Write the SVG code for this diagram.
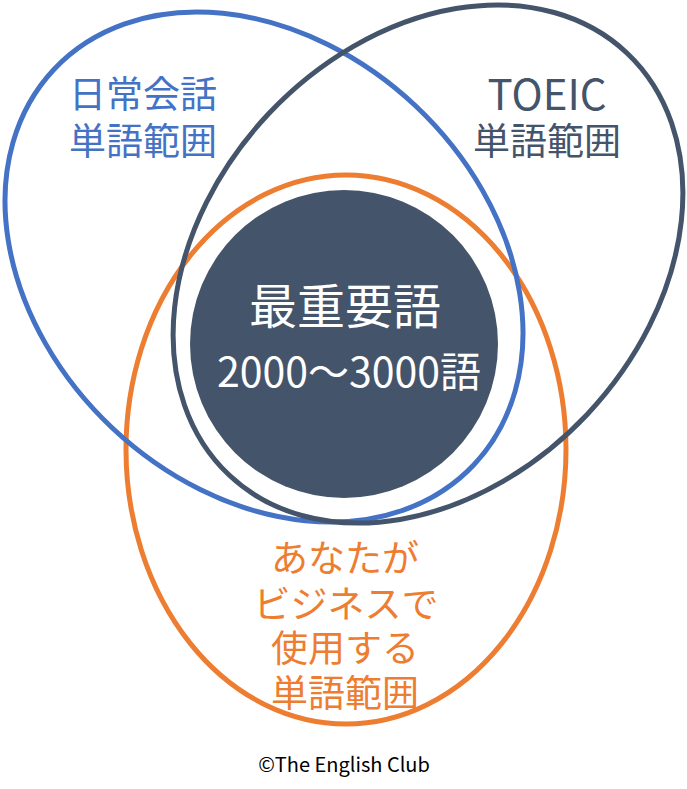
<svg xmlns="http://www.w3.org/2000/svg" width="687" height="789" viewBox="0 0 687 789">
<style>
.ring{fill:none;stroke-width:5}
.jp{font-family:"Noto Sans CJK JP","Noto Sans",sans-serif;text-anchor:middle}
</style>
<rect width="687" height="789" fill="#ffffff"/>
<g id="business">
<ellipse class="ring" cx="346" cy="449.5" rx="220" ry="274.5" stroke="#ED7D31"/>
</g>
<g id="daily">
<ellipse class="ring" cx="264" cy="267" rx="288.4" ry="221.2" transform="rotate(43.3 264 267)" stroke="#4472C4"/>
</g>
<g id="toeic">
<ellipse class="ring" cx="428" cy="264" rx="290" ry="219" transform="rotate(-46.7 428 264)" stroke="#44546A"/>
</g>
<g id="core">
<circle cx="344" cy="344" r="154" fill="#44546A"/>
<text class="jp" x="345" y="324" font-size="48" fill="#ffffff">最重要語</text>
<text class="jp" x="349" y="387" font-size="41" fill="#ffffff">2000～3000語</text>
</g>
<g id="labels">
<text class="jp" font-size="37" fill="#4472C4"><tspan x="143" y="108">日常会話</tspan><tspan x="143" y="155">単語範囲</tspan></text>
<text class="jp" font-size="37" fill="#44546A"><tspan x="547" y="110" font-size="42">TOEIC</tspan><tspan x="547" y="155">単語範囲</tspan></text>
<text class="jp" font-size="37" fill="#ED7D31"><tspan x="345" y="572">あなたが</tspan><tspan x="346" y="618">ビジネスで</tspan><tspan x="345" y="662">使用する</tspan><tspan x="345" y="707">単語範囲</tspan></text>
<text class="jp" x="344" y="772" font-size="20" fill="#000000">©The English Club</text>
</g>
</svg>
